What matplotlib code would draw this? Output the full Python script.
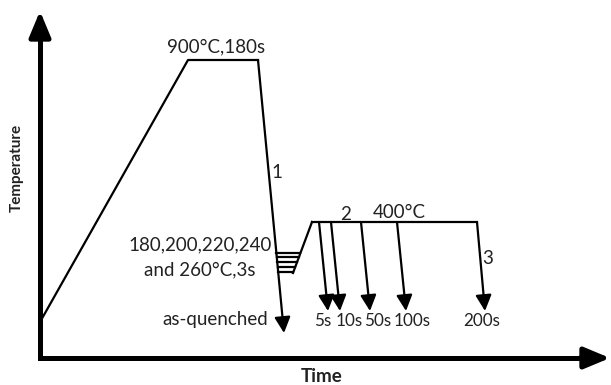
import matplotlib
matplotlib.use("Agg")
import matplotlib.pyplot as plt
import numpy as np

plt.rcParams['font.family'] = ['Lato', 'DejaVu Sans']

# Schematic profile (time units, temperature units; arbitrary schematic scale)
profile_t = [0, 148, 218]
profile_T = [36, 298, 298]
quench_start = (218, 298)
quench_end = (244, 25)
stop_levels = [86, 91, 96, 101, 105]           # 180..260 °C interrupt levels
rise_t = [253, 272]
rise_T = [85, 136]
plateau_t = [272, 437]
plateau_T = 136
hold_start_t = [279, 291, 321, 357, 437]
hold_end_t = [288, 300, 330, 366, 445]
hold_end_T = 47
hold_labels = ["5s", "10s", "50s", "100s", "200s"]
hold_label_t = [283, 309, 338, 372, 442]

fig = plt.figure(figsize=(6.11, 3.85), dpi=100)
ax = fig.add_axes([0, 0, 1, 1])
ax.set_xlim(-40, 571)
ax.set_ylim(-27, 358)
ax.axis('off')

lw = 1.6
col = 'black'
tcol = '#222222'

# axes
ax.plot([0, 0, 555], [330, 0, 0], color=col, lw=3.6, solid_joinstyle='miter', solid_capstyle='butt')
ax.annotate('', xy=(0, 347), xytext=(0, 320),
            arrowprops=dict(arrowstyle='-|>,head_length=0.6,head_width=0.25', color=col, lw=3.6,
                            mutation_scale=26, shrinkA=0, shrinkB=0))
ax.annotate('', xy=(570, 0), xytext=(540, 0),
            arrowprops=dict(arrowstyle='-|>,head_length=0.6,head_width=0.25', color=col, lw=3.6,
                            mutation_scale=26, shrinkA=0, shrinkB=0))

# heating and soaking
ax.plot(profile_t, profile_T, color=col, lw=lw)

arrow_props = dict(arrowstyle='-|>,head_length=0.4,head_width=0.2', color=col, lw=lw,
                   mutation_scale=24, shrinkA=0, shrinkB=0)
# quench
ax.annotate('', xy=quench_end, xytext=quench_start, arrowprops=arrow_props)

# interrupt levels
def quench_x(T):
    return quench_start[0] + (quench_start[1] - T) * (quench_end[0] - quench_start[0]) / (quench_start[1] - quench_end[1])

def rise_x(T):
    return rise_t[0] + (T - rise_T[0]) * (rise_t[1] - rise_t[0]) / (rise_T[1] - rise_T[0])

for T in stop_levels:
    ax.plot([quench_x(T), rise_x(T)], [T, T], color=col, lw=lw)

ax.plot(rise_t, rise_T, color=col, lw=lw)
ax.plot(plateau_t, [plateau_T, plateau_T], color=col, lw=lw)

for ts, te in zip(hold_start_t, hold_end_t):
    ax.annotate('', xy=(te, hold_end_T), xytext=(ts, plateau_T), arrowprops=arrow_props)

fs = 13.5
for lab, tl in zip(hold_labels, hold_label_t):
    ax.text(tl, 37, lab, ha='center', va='center', fontsize=12.3, color=tcol)

ax.text(176, 311, "900°C,180s", ha='center', va='center', fontsize=fs, color=tcol)
ax.text(237, 185, "1", ha='center', va='center', fontsize=fs, color=tcol)
ax.text(306, 143, "2", ha='center', va='center', fontsize=fs, color=tcol)
ax.text(359, 145, "400°C", ha='center', va='center', fontsize=fs, color=tcol)
ax.text(448, 100, "3", ha='center', va='center', fontsize=fs, color=tcol)
ax.text(232, 113, "180,200,220,240", ha='right', va='center', fontsize=fs, color=tcol)
ax.text(216, 88, "and 260°C,3s", ha='right', va='center', fontsize=fs, color=tcol)
ax.text(228, 39, "as-quenched", ha='right', va='center', fontsize=fs, color=tcol)

ax.text(-23, 190, "Temperature", rotation=90, ha='center', va='center', fontsize=11,
        fontweight='bold', color=tcol)
ax.text(282, -19, "Time", ha='center', va='center', fontsize=13.5, fontweight='bold', color=tcol)

fig.savefig("out.png", dpi=100)
